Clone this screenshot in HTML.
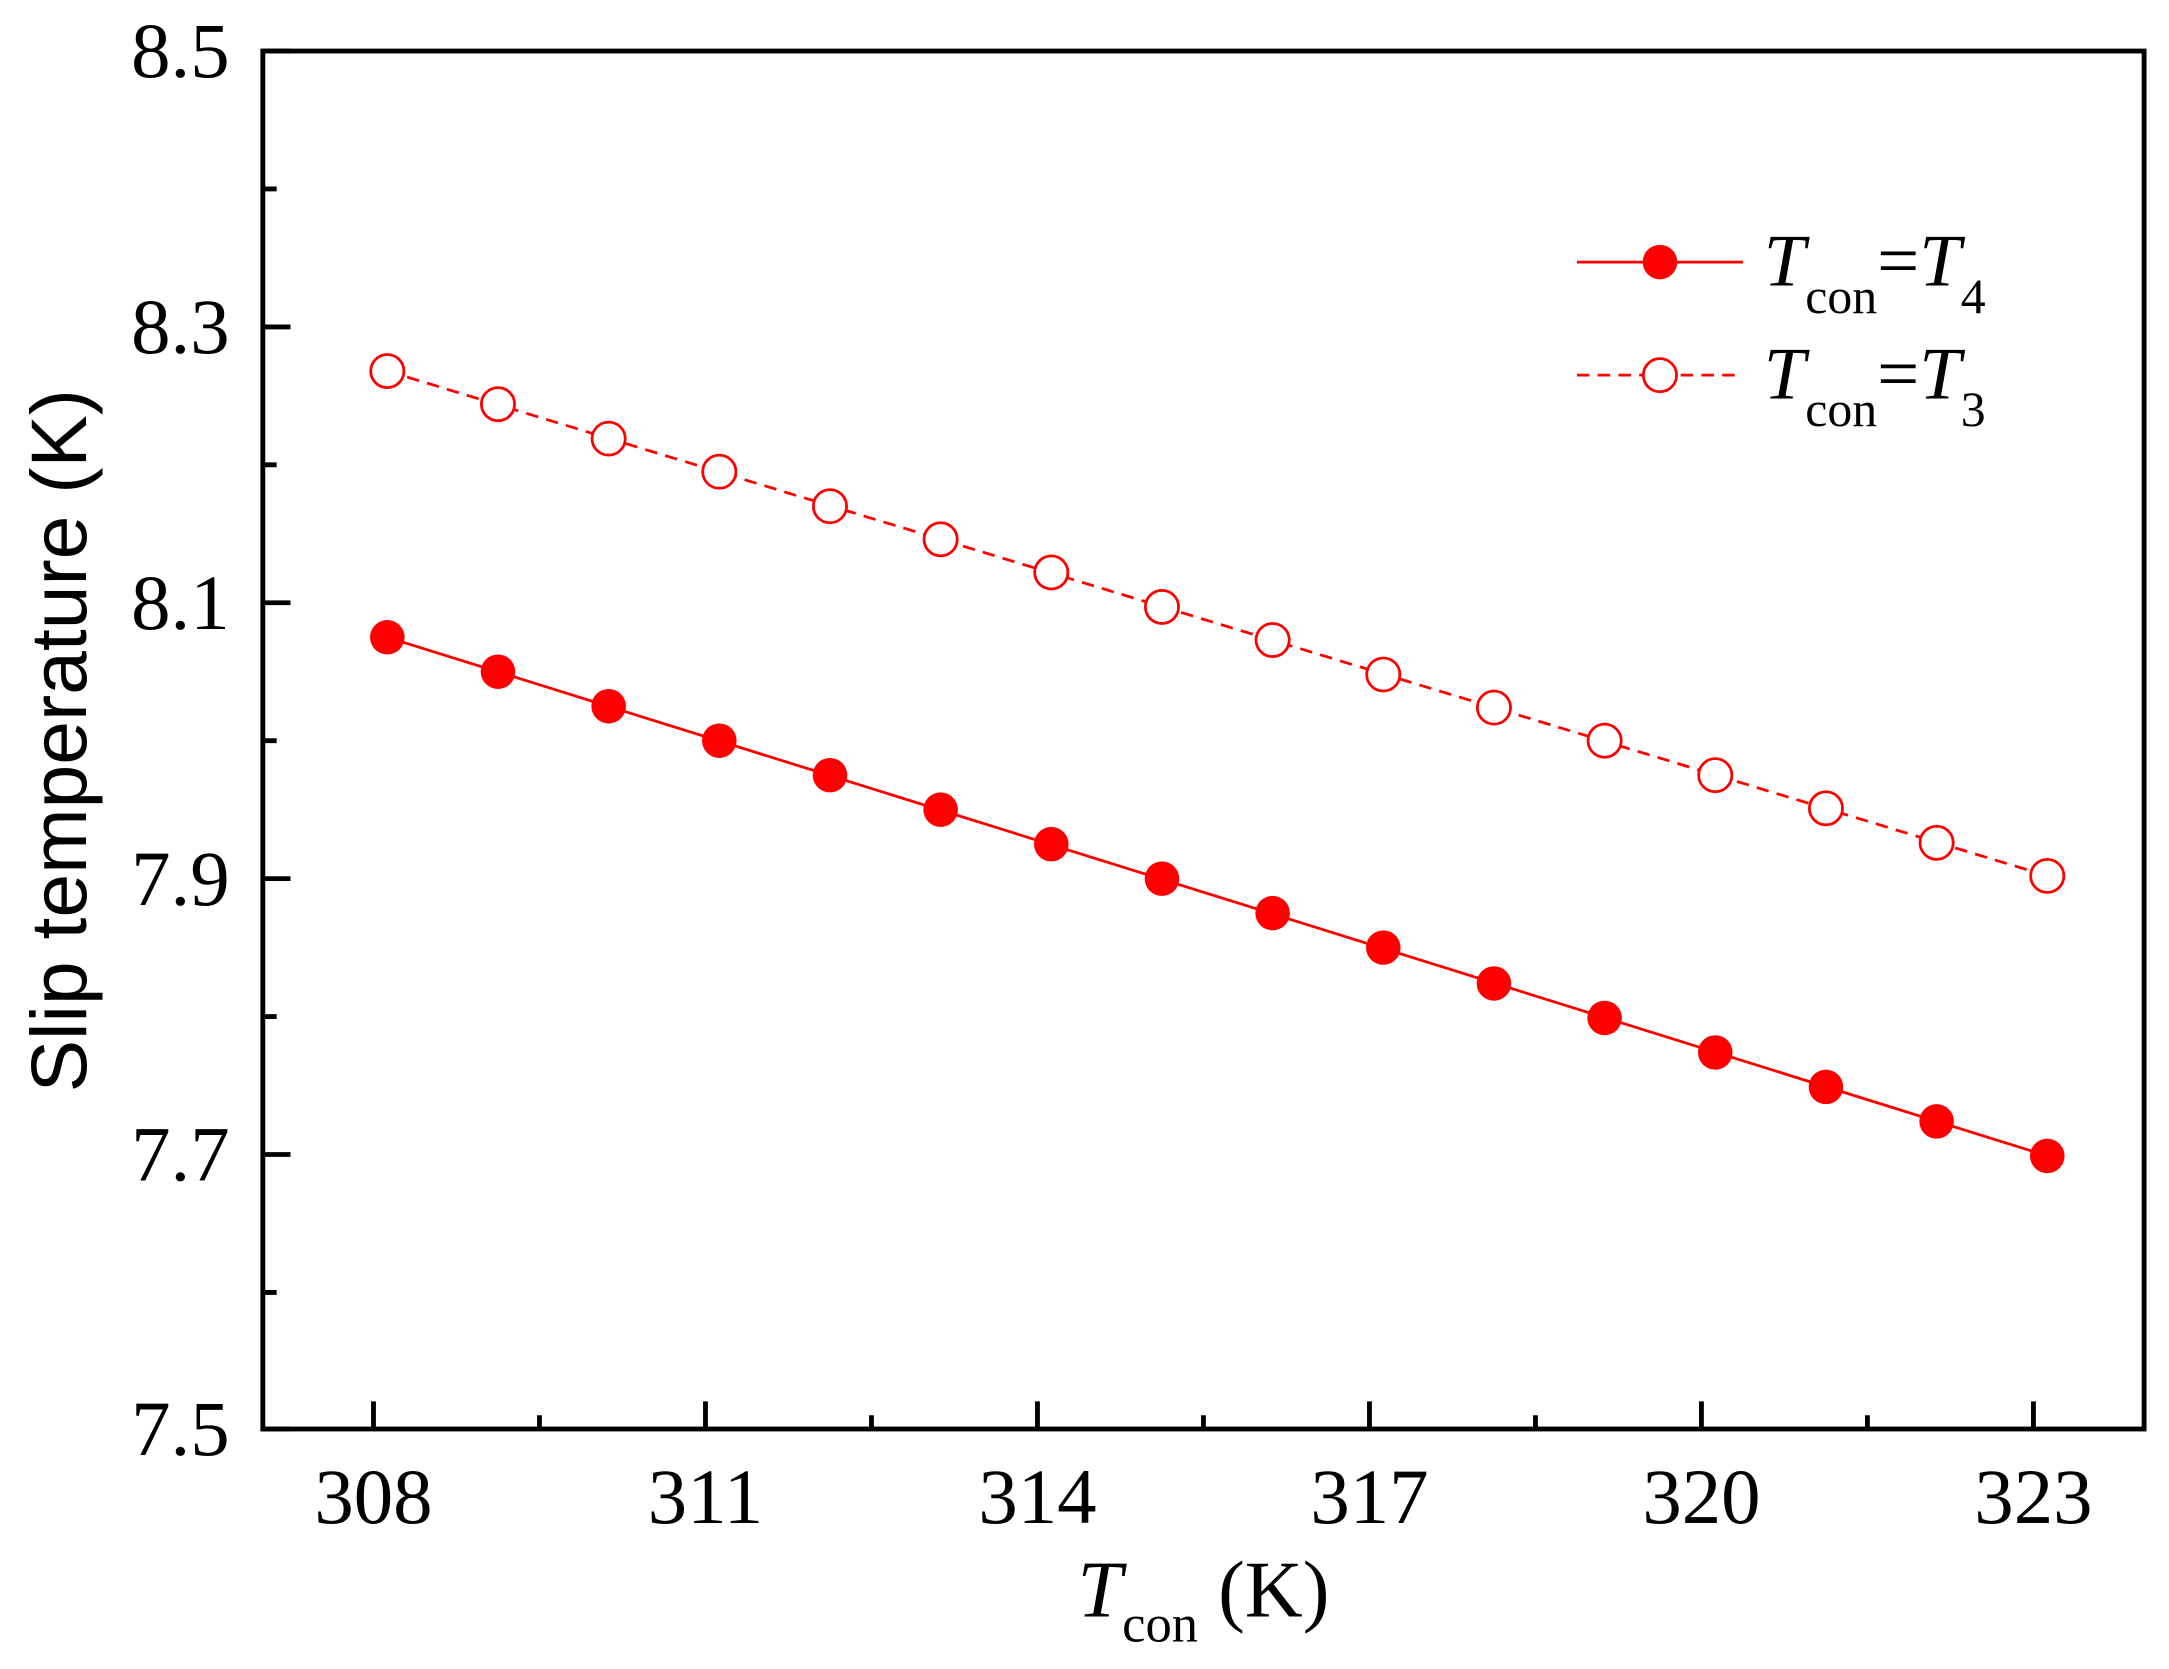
<!DOCTYPE html>
<html><head><meta charset="utf-8"><style>html,body{margin:0;padding:0;background:#fff}svg{display:block}</style></head>
<body>
<svg width="2169" height="1669" viewBox="0 0 1568 1210" preserveAspectRatio="none" xmlns="http://www.w3.org/2000/svg" font-family="Liberation Serif, serif">
<rect width="1568" height="1210" fill="#fff"/>
<g stroke="#000" stroke-width="3.5" fill="none">
<rect x="190" y="37" width="1360" height="999"/>
<path d="M190 37h20M190 237h20M190 437h20M190 637h20M190 837h20M190 1036h20"/>
<path d="M190 137h10M190 337h10M190 537h10M190 737h10M190 937h10"/>
<path d="M270 1036v-20M510 1036v-20M750 1036v-20M990 1036v-20M1230 1036v-20M1470 1036v-20"/>
<path d="M390 1036v-10M630 1036v-10M870 1036v-10M1110 1036v-10M1350 1036v-10"/>
</g>
<g font-size="57" fill="#000" text-anchor="end">
<text x="166" y="56">8.5</text><text x="166" y="256">8.3</text><text x="166" y="456">8.1</text>
<text x="166" y="656">7.9</text><text x="166" y="856">7.7</text><text x="166" y="1055">7.5</text>
</g>
<g font-size="57" fill="#000" text-anchor="middle">
<text x="270" y="1104">308</text><text x="510" y="1104">311</text><text x="750" y="1104">314</text>
<text x="990" y="1104">317</text><text x="1230" y="1104">320</text><text x="1470" y="1104">323</text>
</g>
<text transform="translate(62,537) rotate(-90)" font-size="57" text-anchor="middle" font-family="Liberation Sans, sans-serif">Slip temperature (K)</text>
<text x="870" y="1172" font-size="58" text-anchor="middle"><tspan font-style="italic">T</tspan><tspan font-size="38" dy="18">con</tspan><tspan dy="-18"> (K)</tspan></text>
<polyline fill="none" stroke="#f00" stroke-width="2" points="280,462 1480,838"/>
<polyline fill="none" stroke="#f00" stroke-width="2" stroke-dasharray="9,6" points="280,269 1480,635"/>
<g fill="#f00">
<circle cx="280" cy="462" r="12.5"/><circle cx="360" cy="487" r="12.5"/><circle cx="440" cy="512" r="12.5"/><circle cx="520" cy="537" r="12.5"/><circle cx="600" cy="562" r="12.5"/><circle cx="680" cy="587" r="12.5"/><circle cx="760" cy="612" r="12.5"/><circle cx="840" cy="637" r="12.5"/><circle cx="920" cy="662" r="12.5"/><circle cx="1000" cy="687" r="12.5"/><circle cx="1080" cy="713" r="12.5"/><circle cx="1160" cy="738" r="12.5"/><circle cx="1240" cy="763" r="12.5"/><circle cx="1320" cy="788" r="12.5"/><circle cx="1400" cy="813" r="12.5"/><circle cx="1480" cy="838" r="12.5"/>
</g>
<g fill="#fff" stroke="#f00" stroke-width="2">
<circle cx="280" cy="269" r="12"/><circle cx="360" cy="293" r="12"/><circle cx="440" cy="318" r="12"/><circle cx="520" cy="342" r="12"/><circle cx="600" cy="367" r="12"/><circle cx="680" cy="391" r="12"/><circle cx="760" cy="415" r="12"/><circle cx="840" cy="440" r="12"/><circle cx="920" cy="464" r="12"/><circle cx="1000" cy="489" r="12"/><circle cx="1080" cy="513" r="12"/><circle cx="1160" cy="537" r="12"/><circle cx="1240" cy="562" r="12"/><circle cx="1320" cy="586" r="12"/><circle cx="1400" cy="611" r="12"/><circle cx="1480" cy="635" r="12"/>
</g>
<line x1="1140" y1="190" x2="1260" y2="190" stroke="#f00" stroke-width="2"/>
<circle cx="1200" cy="190" r="12.5" fill="#f00"/>
<line x1="1140" y1="272" x2="1260" y2="272" stroke="#f00" stroke-width="2" stroke-dasharray="9,6"/>
<circle cx="1200" cy="272" r="12" fill="#fff" stroke="#f00" stroke-width="2"/>
<g font-size="54" fill="#000">
<text x="1275" y="207"><tspan font-style="italic">T</tspan><tspan font-size="36" dy="20">con</tspan><tspan dy="-20">=</tspan><tspan font-style="italic">T</tspan><tspan font-size="36" dy="20">4</tspan></text>
<text x="1275" y="289"><tspan font-style="italic">T</tspan><tspan font-size="36" dy="20">con</tspan><tspan dy="-20">=</tspan><tspan font-style="italic">T</tspan><tspan font-size="36" dy="20">3</tspan></text>
</g>
</svg>
</body></html>
